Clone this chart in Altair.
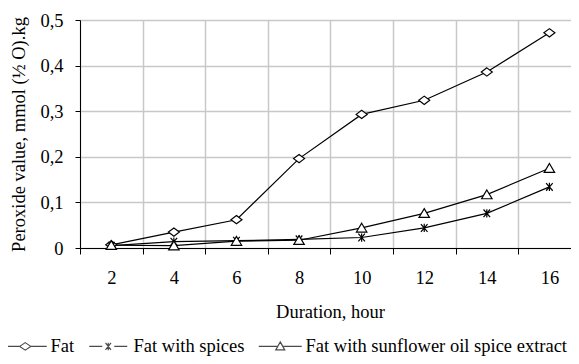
import altair as alt
import pandas as pd

hours = [2, 4, 6, 8, 10, 12, 14, 16]
series_names = ["Fat", "Fat with spices", "Fat with sunflower oil spice extract"]
fat = [0.007, 0.035, 0.062, 0.196, 0.293, 0.324, 0.386, 0.472]
fat_spices = [0.005, 0.014, 0.016, 0.019, 0.023, 0.044, 0.076, 0.134]
fat_extract = [0.006, 0.005, 0.015, 0.017, 0.044, 0.076, 0.117, 0.175]
x_ticks = list(range(1, 17))
y_ticks = [0, 0.1, 0.2, 0.3, 0.4, 0.5]

rows = []
for name, vals in zip(series_names, [fat, fat_spices, fat_extract]):
    for h, v in zip(hours, vals):
        rows.append({"hour": h, "value": v, "series": name})
df = pd.DataFrame(rows)

FONT = "Liberation Serif"
FS = 18.5

# marker shapes in the plot
plot_shapes = [
    "M0,-0.75L1,0L0,0.75L-1,0Z",
    "M-0.6,-0.7L0.6,0.7M-0.6,0.7L0.6,-0.7M0,-0.75L0,0.75",
    "M0,-0.85L0.95,0.75L-0.95,0.75Z",
]
# legend symbols (line + marker)
legend_shapes = [
    "M-4.3,0L-1.1,0M1.1,0L4.3,0M0,-0.75L1.1,0L0,0.75L-1.1,0Z",
    "M-3.8,0L-1.2,0M1.2,0L3.8,0M-0.55,-0.7L0.55,0.7M-0.55,0.7L0.55,-0.7M0,-0.75L0,0.75",
    "M-4.3,0L-0.5,0M0.5,0L4.3,0M0,-0.9L0.9,0.7L-0.9,0.7Z",
]

x_enc = alt.X(
    "hour:Q",
    scale=alt.Scale(domain=[1, 16.69], nice=False, zero=False),
    axis=alt.Axis(
        values=x_ticks,
        title="Duration, hour",
        titleX=250,
        labelExpr="datum.value % 2 == 0 ? datum.label : ''",
        gridOpacity={"condition": {"test": "datum.value % 2 == 1", "value": 1}, "value": 0},
        tickOpacity={"condition": {"test": "datum.value % 2 == 1", "value": 1}, "value": 0},
        tickSize=6,
        labelPadding=14,
        titlePadding=16,
    ),
)
y_enc = alt.Y(
    "value:Q",
    scale=alt.Scale(domain=[0, 0.5], nice=False),
    axis=alt.Axis(
        values=y_ticks,
        title="Peroxide value, mmol (½ O).kg",
        labelExpr="datum.value == 0 ? '0' : replace(format(datum.value, '.1f'), '.', ',')",
        tickSize=5,
        labelPadding=12,
        titlePadding=11,
    ),
)

base = alt.Chart(df).encode(x=x_enc, y=y_enc)

lines = base.mark_line(color="black", strokeWidth=1.2).encode(detail="series:N")

points = base.mark_point(
    filled=True, fill="white", stroke="black", strokeWidth=1.2, opacity=1, size=121
).encode(
    shape=alt.Shape(
        "series:N",
        scale=alt.Scale(domain=series_names, range=plot_shapes),
        legend=None,
    )
)

# legend-only layer: no rows drawn, explicit domain keeps all entries
legend_layer = base.mark_point(color="black", strokeWidth=1.2).encode(
    shape=alt.Shape(
        "series:N",
        scale=alt.Scale(domain=series_names, range=legend_shapes),
        legend=alt.Legend(
            title=None,
            orient="none",
            direction="horizontal",
            legendX=-64,
            legendY=317,
            symbolSize=100,
            symbolStrokeWidth=1.2,
            labelOffset=16,
            columnPadding=11,
            labelLimit=500,
            labelFont=FONT,
            labelFontSize=FS,
            labelColor="black",
        ),
    )
).transform_filter("false")

chart = (
    alt.layer(lines, points, legend_layer)
    .resolve_scale(shape="independent")
    .properties(
        width=491,
        height=228,
        autosize=alt.AutoSizeParams(type="none"),
        padding={"left": 72, "top": 12, "right": 0, "bottom": 108},
        background="white",
    )
    .configure_view(stroke=None)
    .configure_axis(
        labelFont=FONT,
        titleFont=FONT,
        labelFontSize=FS,
        titleFontSize=FS,
        titleFontWeight="normal",
        labelColor="black",
        titleColor="black",
        domainColor="black",
        tickColor="black",
        domainWidth=1,
        tickWidth=1,
        gridColor="#c8c8c8",
        gridWidth=1.5,
    )
)

chart.save("out.html", embed_options={"renderer": "svg", "actions": False})
